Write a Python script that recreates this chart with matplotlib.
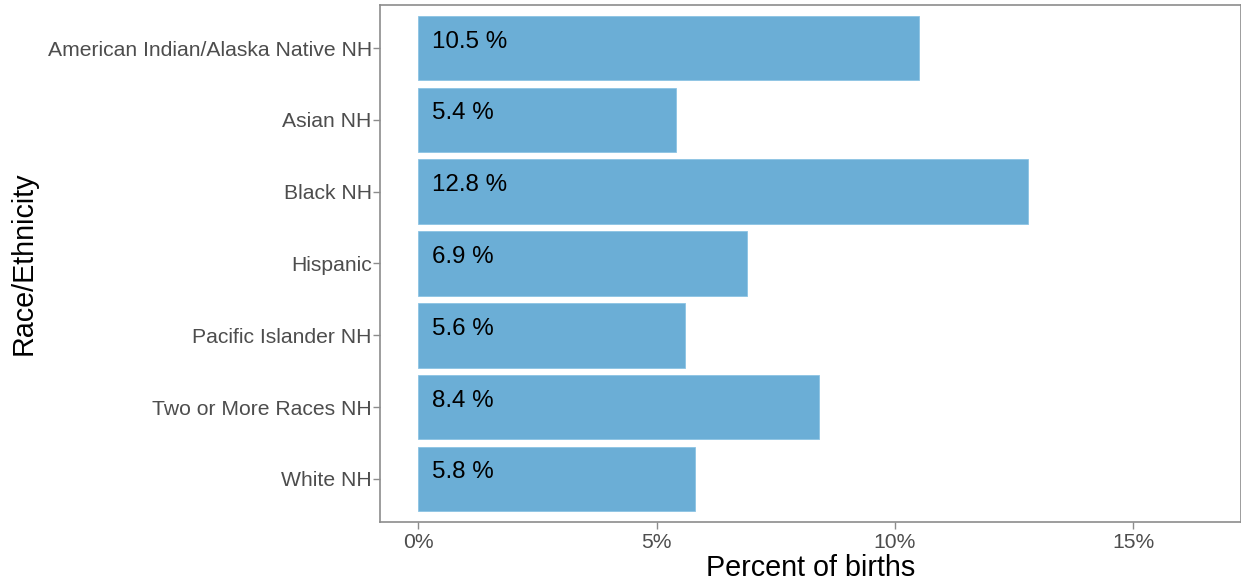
import matplotlib
matplotlib.use("Agg")
import matplotlib.pyplot as plt
from matplotlib.ticker import FuncFormatter

plt.rcParams['font.family'] = ['Liberation Sans', 'DejaVu Sans']

categories = [
    "American Indian/Alaska Native NH",
    "Asian NH",
    "Black NH",
    "Hispanic",
    "Pacific Islander NH",
    "Two or More Races NH",
    "White NH",
]
percent = [10.5, 5.4, 12.8, 6.9, 5.6, 8.4, 5.8]
x_ticks = [0, 5, 10, 15]

bar_color = "#6BAED6"
frame_color = "#8C8C8C"
tick_text = "#4D4D4D"

fig = plt.figure(figsize=(12.41, 5.82), dpi=100)
ax = fig.add_axes([380 / 1241, (582 - 522) / 582, (1241 - 380) / 1241, 517 / 582])

n = len(categories)
ypos = list(range(n, 0, -1))
ax.barh(ypos, percent, height=0.9, color=bar_color, edgecolor="#8CC3E3", linewidth=0.6)

for y, v in zip(ypos, percent):
    ax.text(0.3, y + 0.09, f"{v} %", ha="left", va="center", fontsize=17.4, color="black")

ax.set_ylim(0.4, n + 0.6)
ax.set_xlim(-0.8, 17.26)
ax.set_yticks(ypos)
ax.set_yticklabels(categories)
ax.set_xticks(x_ticks)
ax.xaxis.set_major_formatter(FuncFormatter(lambda v, p: f"{v:g}%"))

ax.tick_params(axis="both", colors=frame_color, labelcolor=tick_text, labelsize=15.2,
               length=5, width=1)
ax.tick_params(axis="y", pad=1)
ax.tick_params(axis="x", pad=3)

for s in ax.spines.values():
    s.set_color(frame_color)
    s.set_linewidth(1.2)

ax.set_xlabel("Percent of births", fontsize=20.7, color="black", labelpad=1)
ax.set_ylabel("Race/Ethnicity", fontsize=20.7, color="black")
ax.yaxis.set_label_coords((38 - 380) / 861, 0.5)

fig.savefig("out.png", dpi=100)
